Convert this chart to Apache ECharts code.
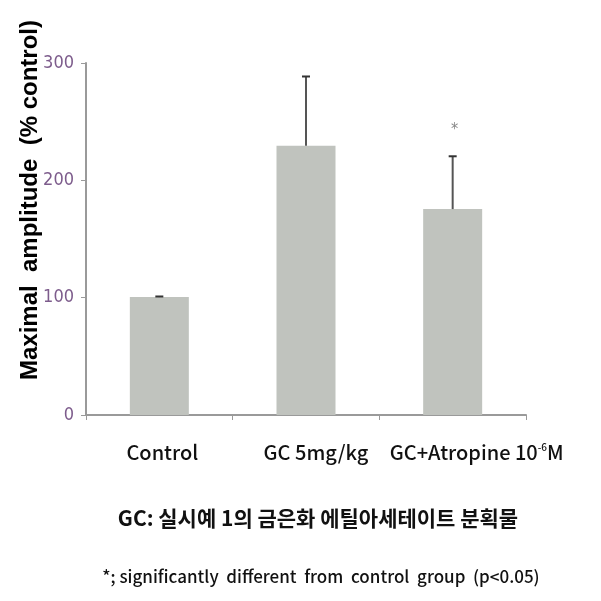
<!DOCTYPE html>
<html><head><meta charset="utf-8">
<script src="https://cdn.jsdelivr.net/npm/echarts@6/dist/echarts.min.js"></script>
<style>html,body{margin:0;padding:0;background:#fff}#c{width:601px;height:601px}</style>
</head><body><div id="c"></div>
<script>
const categories = ['Control', 'GC 5mg/kg', 'GC+Atropine 10-6M'];
const means = [100.5, 229.5, 175.5];
const errors = [0.5, 59, 45];
const marks = ['', '', '*'];
const yTicks = [0, 100, 200, 300];

const chart = echarts.init(document.getElementById('c'));
const kr = '"Noto Sans CJK KR", "Noto Sans", sans-serif';
const narrow = '"Liberation Sans Narrow", "DejaVu Sans Condensed", "Noto Sans", sans-serif';

chart.setOption({
  animation: false,
  grid: { left: 86, right: 75, top: 63, bottom: 186 },
  xAxis: {
    type: 'category',
    data: categories,
    axisLine: { lineStyle: { color: '#9a9a9a', width: 2 } },
    axisTick: { show: true, length: 5, alignWithLabel: false, lineStyle: { color: '#9a9a9a' } },
    axisLabel: {
      interval: 0,
      hideOverlap: false,
      margin: 27,
      color: '#111',
      formatter: function (v, i) {
        if (i === 0) return '{a|Control}';
        if (i === 1) return '{b|GC 5mg/kg}';
        return '{c|GC+Atropine 10}{s|-6}{d|M}';
      },
      rich: {
        a: { fontSize: 20, fontWeight: 500, fontFamily: kr, color: '#111', padding: [0, 0, 0, 6] },
        b: { fontSize: 20, fontWeight: 500, fontFamily: kr, color: '#111', padding: [0, 0, 0, 20] },
        c: { fontSize: 20, fontWeight: 500, fontFamily: kr, color: '#111', padding: [0, 0, 0, 48] },
        s: { fontSize: 10, fontWeight: 500, fontFamily: kr, color: '#111', verticalAlign: 'top', padding: [0, 0, 8, 0] },
        d: { fontSize: 20, fontWeight: 500, fontFamily: kr, color: '#111' }
      }
    }
  },
  yAxis: {
    type: 'value',
    min: 0, max: 300, interval: 100,
    splitLine: { show: false },
    axisLine: { show: true, lineStyle: { color: '#9a9a9a', width: 2 } },
    axisTick: { show: true, length: 5, lineStyle: { color: '#9a9a9a' } },
    axisLabel: {
      margin: 12,
      color: '#7d5c8c',
      fontSize: 18,
      fontFamily: narrow,
      formatter: function (v) { return yTicks.indexOf(v) >= 0 ? String(v) : ''; }
    }
  },
  series: [
    {
      type: 'bar',
      data: means,
      barWidth: 59,
      itemStyle: { color: '#c0c3be' }
    },
    {
      type: 'custom',
      data: means.map((m, i) => [i, m, errors[i], marks[i]]),
      renderItem: function (params, api) {
        const x = api.value(0);
        const top = api.coord([x, api.value(1) + api.value(2)]);
        const base = api.coord([x, api.value(1)]);
        const children = [
          { type: 'line', shape: { x1: base[0], y1: base[1], x2: top[0], y2: top[1] },
            style: { stroke: '#555', lineWidth: 2 } },
          { type: 'line', shape: { x1: top[0] - 4, y1: top[1], x2: top[0] + 4, y2: top[1] },
            style: { stroke: '#333', lineWidth: 2 } }
        ];
        const mk = api.value(3);
        if (mk) {
          children.push({ type: 'text', x: top[0] + 2, y: top[1] - 26,
            style: { text: mk, fontSize: 16, fill: '#888', align: 'center', verticalAlign: 'middle', fontFamily: narrow } });
        }
        return { type: 'group', children: children };
      },
      z: 5
    }
  ],
  graphic: [
    { type: 'text', x: 30, y: 200, rotation: Math.PI / 2,
      style: { text: 'Maximal  amplitude  (% control)', fontSize: 24, fontWeight: 'bold',
        fontFamily: '"Liberation Sans", Arial, sans-serif', fill: '#000', align: 'center', verticalAlign: 'middle' } },
    { type: 'text', x: 318, y: 518,
      style: { text: 'GC: 실시예 1의 금은화 에틸아세테이트 분획물', fontSize: 21, fontWeight: 'bold',
        fontFamily: kr, fill: '#111', align: 'center', verticalAlign: 'middle' } },
    { type: 'text', x: 321, y: 577,
      style: { text: '*; significantly  different  from  control  group  (p<0.05)', fontSize: 17, fontWeight: 500,
        fontFamily: kr, fill: '#111', align: 'center', verticalAlign: 'middle' } }
  ]
});
</script></body></html>
